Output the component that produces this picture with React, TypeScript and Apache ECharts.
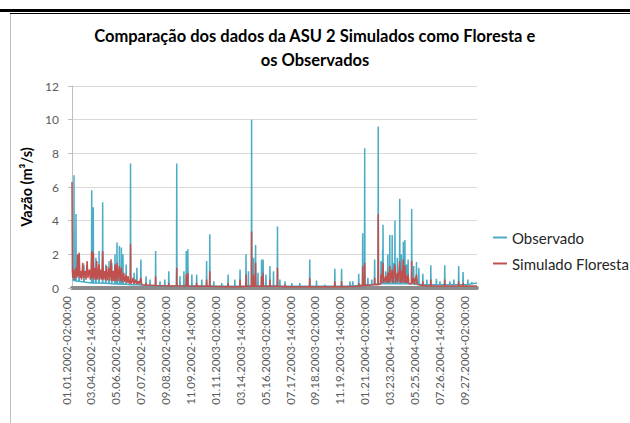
import React, { useEffect, useRef } from "react";
import * as echarts from "echarts";

const titleLines = ["Comparação dos dados da ASU 2 Simulados como Floresta e", "os Observados"];
const yAxisName = "Vazão (m³/s)";
const seriesNames = ["Observado", "Simulado Floresta"];
// days since 01.01.2002 02:00
const xTickStep = 62.5;
const xMaxDay = 1017;
const xTickLabels = [
  "01.01.2002-02:00:00", "03.04.2002-14:00:00", "05.06.2002-02:00:00", "07.07.2002-14:00:00",
  "09.08.2002-02:00:00", "11.09.2002-14:00:00", "01.11.2003-02:00:00", "03.14.2003-14:00:00",
  "05.16.2003-02:00:00", "07.17.2003-14:00:00", "09.18.2003-02:00:00", "11.19.2003-14:00:00",
  "01.21.2004-02:00:00", "03.23.2004-14:00:00", "05.25.2004-02:00:00", "07.26.2004-14:00:00",
  "09.27.2004-02:00:00",
];

const observado: [number, number][] = [
  [0,0.5],[4.4,0.45],[5,6.7],[5.6,0.45],[9.4,0.42],[10,4.4],[10.6,0.42],[17,0.4],[17.6,1.2],[18.2,0.4],
  [29.4,0.35],[30,1.4],[30.6,0.35],[48.9,0.3],[49.5,5.8],[50.1,0.3],[52.9,0.3],[53.5,4.8],[54.1,0.3],
  [59.4,0.3],[60,1.8],[60.6,0.3],[67.4,0.3],[68,2.2],[68.6,0.3],[76.4,0.28],[77,5.1],[77.6,0.28],
  [84.4,0.28],[85,1.4],[85.6,0.28],[92.4,0.26],[93,1.6],[93.6,0.26],[99.4,0.25],[100,1.5],[100.6,0.25],
  [107.4,0.24],[108,2.0],[108.6,0.24],[112.4,0.24],[113,2.7],[113.6,0.24],[118.4,0.23],[119,2.5],[119.6,0.23],
  [123.4,0.23],[124,2.4],[124.6,0.23],[127.4,0.22],[128,2.0],[128.6,0.22],[135.4,0.22],[136,1.4],[136.6,0.22],
  [146.4,0.2],[147,7.4],[147.6,0.2],[155.4,0.2],[156,0.9],[156.6,0.2],[162.4,0.2],[163,1.2],[163.6,0.2],
  [172.4,0.18],[173,1.7],[173.6,0.18],[185.4,0.16],[186,0.7],[186.6,0.16],[195.4,0.15],[196,0.5],[196.6,0.15],
  [209.4,0.13],[210,2.2],[210.6,0.13],[220.4,0.12],[221,0.4],[221.6,0.12],[232.4,0.12],[233,0.5],[233.6,0.12],
  [242.4,0.12],[243,1.0],[243.6,0.12],[262.4,0.12],[263,7.4],[263.6,0.12],[270.4,0.12],[271,0.7],[271.6,0.12],
  [280.4,0.12],[281,1.0],[281.6,0.12],[286.4,0.12],[287,2.2],[287.6,0.12],[290.4,0.12],[291,2.3],[291.6,0.12],
  [300.4,0.12],[301,0.8],[301.6,0.12],[312.4,0.12],[313,0.8],[313.6,0.12],[325.4,0.12],[326,0.5],[326.6,0.12],
  [337.4,0.12],[338,1.6],[338.6,0.12],[345.4,0.12],[346,3.2],[346.6,0.12],[355.4,0.12],[356,0.4],[356.6,0.12],
  [375.4,0.1],[376,0.3],[376.6,0.1],[391.4,0.1],[392,0.8],[392.6,0.1],[408.4,0.1],[409,0.5],[409.6,0.1],
  [421.4,0.1],[422,1.1],[422.6,0.1],[436.4,0.12],[437,2.0],[437.6,0.12],[442.4,0.12],[443,1.0],[443.6,0.12],
  [450.4,0.12],[451,10.0],[451.6,0.12],[455.4,0.12],[456,1.8],[456.6,0.12],[460.4,0.12],[461,2.55],[461.6,0.12],
  [466.4,0.12],[467,0.9],[467.6,0.12],[475.4,0.12],[476,1.7],[476.6,0.12],[479.4,0.12],[480,1.7],[480.6,0.12],
  [486.4,0.12],[487,0.8],[487.6,0.12],[496.4,0.12],[497,1.3],[497.6,0.12],[505.4,0.12],[506,1.0],[506.6,0.12],
  [515.4,0.12],[516,3.65],[516.6,0.12],[521.4,0.12],[522,0.5],[522.6,0.12],[534.4,0.1],[535,0.4],[535.6,0.1],
  [551.4,0.1],[552,0.3],[552.6,0.1],[571.4,0.1],[572,0.3],[572.6,0.1],[596.4,0.1],[597,1.7],[597.6,0.1],
  [613.4,0.1],[614,0.45],[614.6,0.1],[634.4,0.1],[635,0.2],[635.6,0.1],[659.4,0.1],[660,1.15],[660.6,0.1],
  [676.4,0.1],[677,1.15],[677.6,0.1],[697.4,0.12],[698,0.4],[698.6,0.12],[704.4,0.12],[705,0.4],[705.6,0.12],
  [719.4,0.15],[720,0.85],[720.6,0.15],[729.4,0.2],[730,3.25],[730.6,0.2],[734.4,0.2],[735,8.3],[735.6,0.2],
  [742.4,0.2],[743,0.6],[743.6,0.2],[752.4,0.2],[753,0.5],[753.6,0.2],[759.4,0.22],[760,1.7],[760.6,0.22],
  [768.4,0.25],[769,9.6],[769.6,0.25],[775.4,0.25],[776,1.6],[776.6,0.25],[779.4,0.25],[780,2.25],[780.5,1.0],
  [781,3.75],[781.6,0.25],[787.4,0.25],[788,1.0],[788.6,0.25],[792.4,0.25],[793,2.0],[793.6,0.25],
  [797.4,0.25],[798,3.15],[798.6,0.25],[803.4,0.25],[804,3.15],[804.6,0.25],[806.4,0.25],[807,1.5],[807.6,0.25],
  [810.4,0.25],[811,4.0],[811.6,0.25],[816.4,0.25],[817,1.8],[817.6,0.25],[822.4,0.25],[823,5.3],[823.6,0.25],
  [826.4,0.25],[827,2.0],[827.6,0.25],[831.4,0.25],[832,2.75],[832.6,0.25],[835.4,0.25],[836,2.85],[836.6,0.25],
  [839.4,0.25],[840,1.4],[840.6,0.25],[843.4,0.25],[844,1.7],[844.6,0.25],[852.4,0.25],[853,4.7],[853.6,0.25],
  [857.4,0.25],[858,1.3],[858.6,0.25],[864.4,0.22],[865,1.55],[865.6,0.22],[870.4,0.22],[871,1.2],[871.6,0.22],
  [880.4,0.2],[881,0.85],[881.6,0.2],[890.4,0.2],[891,0.5],[891.6,0.2],[900.4,0.2],[901,1.35],[901.6,0.2],
  [914.4,0.2],[915,0.55],[915.6,0.2],[923.4,0.2],[924,0.4],[924.6,0.2],[935.4,0.2],[936,1.35],[936.6,0.2],
  [948.4,0.2],[949,0.4],[949.6,0.2],[958.4,0.2],[959,0.5],[959.6,0.2],[970.4,0.2],[971,1.3],[971.6,0.2],
  [981.4,0.2],[982,0.95],[982.6,0.2],[993.4,0.2],[994,0.5],[994.6,0.2],[1003.4,0.25],[1004,0.35],[1004.6,0.25],
  [1017,0.3],
];

const simuladoFloresta: [number, number][] = [
  [0,6.3],[1,1.0],[2,0.6],[4,1.1],[6,0.5],[8,0.9],[10,1.2],[12,0.6],[14,2.0],[16,0.7],[18,2.1],[20,0.6],
  [22,1.0],[24,0.5],[27,1.5],[29,0.6],[31,0.9],[33,1.0],[35,0.5],[38,1.6],[40,0.6],[42,0.9],[44,1.1],[46,0.5],
  [48,0.8],[49.5,2.2],[51,0.6],[53.5,2.1],[55,0.5],[58,1.2],[60,0.5],[62,1.6],[64,0.5],[66,0.9],[68,1.4],[70,0.5],
  [73,1.1],[75,0.5],[77,2.2],[79,0.5],[82,1.0],[84,0.45],[87,1.3],[89,0.45],[91,0.8],[93,1.2],[95,0.45],[98,1.7],
  [100,0.4],[103,1.0],[105,0.4],[108,1.4],[110,0.4],[113,1.5],[115,0.4],[117,0.9],[119,1.3],[121,0.4],[124,1.2],
  [126,0.35],[130,0.9],[132,0.35],[136,0.8],[138,0.3],[141,0.7],[143,0.3],[146.4,0.3],[147,2.6],[147.6,0.3],
  [150,0.3],[153,0.6],[156,0.25],[160,0.5],[162,0.25],[166,0.4],[168,0.22],[173,0.6],[175,0.2],
  [185.4,0.18],[186,0.3],[186.6,0.18],[209.4,0.15],[210,0.7],[210.6,0.15],[242.4,0.12],[243,0.3],[243.6,0.12],
  [262.4,0.12],[263,1.2],[263.6,0.12],[286.4,0.12],[287,0.8],[287.6,0.12],[290.4,0.12],[291,0.9],[291.6,0.12],
  [312.4,0.1],[313,0.3],[313.6,0.1],[337.4,0.1],[338,0.5],[338.6,0.1],[345.4,0.1],[346,1.0],[346.6,0.1],
  [391.4,0.08],[392,0.3],[392.6,0.08],[421.4,0.08],[422,0.5],[422.6,0.08],[436.4,0.1],[437,0.8],[437.6,0.1],
  [450.4,0.1],[451,3.35],[451.6,0.1],[455.4,0.1],[456,0.8],[456.6,0.1],[460.4,0.1],[461,1.5],[461.6,0.1],
  [475.4,0.1],[476,0.7],[476.6,0.1],[479.4,0.1],[480,0.9],[480.6,0.1],[496.4,0.1],[497,0.5],[497.6,0.1],
  [515.4,0.1],[516,1.2],[516.6,0.1],[534.4,0.08],[535,0.2],[535.6,0.08],[596.4,0.08],[597,0.6],[597.6,0.08],
  [659.4,0.08],[660,0.4],[660.6,0.08],[676.4,0.08],[677,0.4],[677.6,0.08],[719.4,0.1],[720,0.3],[720.6,0.1],
  [729.4,0.15],[730,1.3],[730.6,0.15],[734.4,0.15],[735,1.5],[735.6,0.15],[759.4,0.2],[760,0.6],[760.6,0.2],
  [768.4,0.2],[769,4.4],[769.6,0.2],[775.4,0.25],[776,0.8],[777.5,0.3],[781,1.5],[783,0.3],[788,0.7],[790,0.3],
  [793,0.9],[795,0.3],[798,1.3],[800,0.35],[804,1.1],[806,0.3],[808,0.8],[811,1.4],[813,0.3],[817,0.9],[819,0.35],
  [823,1.6],[825,0.3],[827,1.0],[829,0.35],[832,1.7],[834,0.35],[836,1.3],[838,0.3],[840,0.7],[842,0.3],[844,0.8],
  [846,0.25],[852.4,0.25],[853,1.6],[853.6,0.25],[858,0.6],[860,0.2],[865,0.8],[867,0.2],[880.4,0.15],[881,0.4],
  [881.6,0.15],[900.4,0.12],[901,0.5],[901.6,0.12],[935.4,0.12],[936,0.5],[936.6,0.12],[970.4,0.12],[971,0.4],
  [971.6,0.12],[981.4,0.12],[982,0.3],[982.6,0.12],[1017,0.12],
];

const FONT = "Lato";

export default function App() {
  const ref = useRef<HTMLDivElement>(null);
  useEffect(() => {
    if (!ref.current) return;
    const chart = echarts.init(ref.current, undefined, { renderer: "svg" });
    chart.setOption({
      animation: false,
      backgroundColor: "#ffffff",
      textStyle: { fontFamily: FONT },
      graphic: [
        { type: "line", shape: { x1: 0, y1: 10.5, x2: 630, y2: 10.5 }, style: { stroke: "#000", lineWidth: 3 } },
        { type: "line", shape: { x1: 10, y1: 13.5, x2: 630, y2: 13.5 }, style: { stroke: "#000", lineWidth: 1 } },
        { type: "line", shape: { x1: 10.5, y1: 14, x2: 10.5, y2: 423 }, style: { stroke: "#bdbdbd", lineWidth: 1 } },
        {
          type: "text", left: "center", top: 27,
          style: { text: titleLines[0], fontFamily: FONT, fontWeight: "bold", fontSize: 16.5, fill: "#000" },
        },
        {
          type: "text", left: "center", top: 51,
          style: { text: titleLines[1], fontFamily: FONT, fontWeight: "bold", fontSize: 16.5, fill: "#000" },
        },
      ],
      legend: {
        orient: "vertical", left: 488, top: 225, itemGap: 11, itemWidth: 14, itemHeight: 2, icon: "rect",
        textStyle: { fontFamily: FONT, fontSize: 15, color: "#262626" },
        data: seriesNames,
      },
      grid: { left: 72, right: 153, top: 86, bottom: 135, containLabel: false },
      xAxis: {
        type: "value", min: 0, max: xMaxDay, interval: xTickStep,
        offset: 2,
        splitLine: { show: false },
        axisLine: { show: true, lineStyle: { color: "#8c8c8c", width: 4 } },
        axisTick: { show: false },
        axisLabel: {
          rotate: 90, margin: 6, fontFamily: FONT, fontSize: 11.5, color: "#595959",
          verticalAlign: "bottom",
          showMaxLabel: true,
          formatter: (v: number) => {
            const k = v / xTickStep;
            if (Math.abs(k - Math.round(k)) > 1e-6) return "";
            return xTickLabels[Math.round(k)] ?? "";
          },
        },
      },
      yAxis: {
        type: "value", min: 0, max: 12, interval: 2,
        name: yAxisName, nameLocation: "middle", nameGap: 22,
        nameTextStyle: { fontFamily: FONT, fontWeight: "bold", fontSize: 14.5, color: "#000" },
        axisLine: { show: true, lineStyle: { color: "#bfbfbf", width: 1 } },
        axisTick: { show: true, length: 4, lineStyle: { color: "#bfbfbf" } },
        splitLine: { lineStyle: { color: "#d9d9d9", width: 1 } },
        axisLabel: { margin: 13, fontFamily: FONT, fontSize: 12, color: "#595959" },
      },
      series: [
        {
          name: seriesNames[0], type: "line", data: observado, showSymbol: false, symbol: "none",
          lineStyle: { color: "#4bacc6", width: 1.5 }, itemStyle: { color: "#4bacc6" },
        },
        {
          name: seriesNames[1], type: "line", data: simuladoFloresta, showSymbol: false, symbol: "none",
          lineStyle: { color: "#c0504d", width: 1.5 }, itemStyle: { color: "#c0504d" },
        },
      ],
    });
    return () => chart.dispose();
  }, []);
  return <div ref={ref} style={{ position: "fixed", left: 0, top: 0, width: 630, height: 423 }} />;
}
